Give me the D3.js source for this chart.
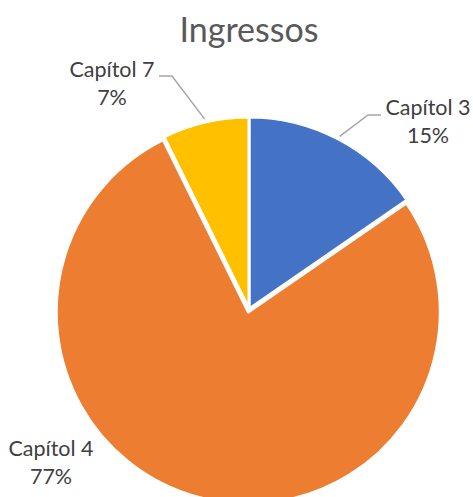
<!DOCTYPE html>
<html>
<head>
<meta charset="utf-8">
<script src="https://cdn.jsdelivr.net/npm/d3@7"></script>
<style>
  body { margin: 0; background: #fff; }
  svg { display: block; }
</style>
</head>
<body>
<div id="chart"></div>
<script>
let categories = ["Capítol 3", "Capítol 4", "Capítol 7"]
let values = [15.4, 77.3, 7.3]
let colors = ["#4472C4", "#ED7D31", "#FFC000"]

const svgWidth = 473, svgHeight = 497
const cx = 249, cy = 309, radius = 192
const font = "Lato, 'Open Sans', sans-serif"

// label layout: text anchor point (first line baseline) and leader elbow
let labelLayout = {
    "Capítol 3": {x: 428, y: 115, leader: [[381, 115], [368, 115]]},
    "Capítol 4": {x: 51, y: 456, leader: null},
    "Capítol 7": {x: 112, y: 77, leader: [[159, 76], [172, 76]]}
}

let svg = d3.select('#chart')
    .append('svg')
    .attr('width', svgWidth)
    .attr('height', svgHeight)

svg.append('text')
    .attr('x', 249)
    .attr('y', 42)
    .attr('text-anchor', 'middle')
    .attr('font-family', font)
    .attr('font-size', 34)
    .attr('fill', '#595959')
    .text('Ingressos')

let pieGroup = svg.append('g')
    .attr('transform', `translate(${cx},${cy})`)

let data = categories.map((c, i) => ({name: c, value: values[i], color: colors[i]}))
let total = d3.sum(values)

let arcs = d3.pie()
    .sort(null)
    .value(d => d.value)
    (data)

let arc = d3.arc()
    .innerRadius(0)
    .outerRadius(radius)

let leaderArc = d3.arc()
    .innerRadius(radius + 3)
    .outerRadius(radius + 3)

pieGroup.selectAll('path')
    .data(arcs)
    .join('path')
    .attr('d', arc)
    .attr('fill', d => d.data.color)
    .attr('stroke', '#fff')
    .attr('stroke-width', 3)
    .attr('stroke-linejoin', 'round')
    .attr('transform', d => {
        // orange slice is pulled out a little
        if (d.data.name !== "Capítol 4") return null
        let mid = (d.startAngle + d.endAngle) / 2
        return `translate(${Math.sin(mid) * 3},${-Math.cos(mid) * 3})`
    })

let labelsGroup = svg.append('g')

arcs.forEach(d => {
    let l = labelLayout[d.data.name]
    if (l.leader) {
        let p = leaderArc.centroid(d)
        let pts = [...l.leader, [p[0] + cx, p[1] + cy]]
        labelsGroup.append('path')
            .attr('d', d3.line()(pts))
            .attr('fill', 'none')
            .attr('stroke', '#A6A6A6')
            .attr('stroke-width', 1.5)
    }
    let t = labelsGroup.append('text')
        .attr('font-family', font)
        .attr('font-size', 21.5)
        .attr('fill', '#404040')
        .attr('text-anchor', 'middle')
    t.append('tspan')
        .attr('x', l.x)
        .attr('y', l.y)
        .text(d.data.name)
    t.append('tspan')
        .attr('x', l.x)
        .attr('y', l.y + 28)
        .text(Math.round(d.data.value / total * 100) + '%')
})
</script>
</body>
</html>
